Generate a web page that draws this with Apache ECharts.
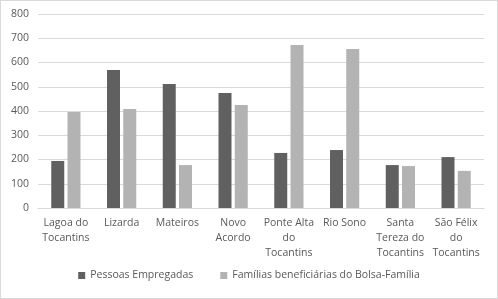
<!DOCTYPE html>
<html>
<head>
<meta charset="utf-8">
<script src="https://cdn.jsdelivr.net/npm/echarts@6/dist/echarts.min.js"></script>
<style>
html,body{margin:0;padding:0;background:#fff;}
#chart{width:498px;height:299px;box-sizing:border-box;border:1px solid #d9d9d9;}
</style>
</head>
<body>
<div id="chart"></div>
<script>
//categorias e valores
var municipios = ['Lagoa do\nTocantins','Lizarda','Mateiros','Novo\nAcordo','Ponte Alta\ndo\nTocantins','Rio Sono','Santa\nTereza do\nTocantins','São Félix\ndo\nTocantins'];
var empregadas = [194, 569, 511, 474, 227, 239, 177, 210];
var bolsaFamilia = [396, 408, 177, 425, 672, 656, 173, 153];
var yTicks = [0, 100, 200, 300, 400, 500, 600, 700, 800];

var chart = echarts.init(document.getElementById('chart'));
var fonte = 'Open Sans';
chart.setOption({
    animation: false,
    color: ['#606060', '#b3b3b3'],
    grid: {left: 37, right: 13, top: 13, bottom: 90},
    legend: {
        bottom: 12,
        left: 'center',
        itemWidth: 7,
        itemHeight: 7,
        itemGap: 27,
        icon: 'rect',
        textStyle: {color: '#595959', fontFamily: fonte, fontSize: 10.5},
        data: ['Pessoas Empregadas', 'Famílias beneficiárias do Bolsa-Família']
    },
    xAxis: {
        type: 'category',
        data: municipios,
        axisLine: {lineStyle: {color: '#d9d9d9'}},
        axisTick: {show: false},
        axisLabel: {color: '#595959', fontFamily: fonte, fontSize: 10.5, lineHeight: 15, interval: 0, margin: 8}
    },
    yAxis: {
        type: 'value',
        min: yTicks[0],
        max: yTicks[yTicks.length - 1],
        interval: 100,
        axisLine: {show: false},
        axisTick: {show: false},
        splitLine: {lineStyle: {color: '#d9d9d9'}},
        axisLabel: {color: '#595959', fontFamily: fonte, fontSize: 10.5, margin: 9}
    },
    series: [
        {name: 'Pessoas Empregadas', type: 'bar', data: empregadas, barWidth: 13, barGap: '25%'},
        {name: 'Famílias beneficiárias do Bolsa-Família', type: 'bar', data: bolsaFamilia, barWidth: 13}
    ]
});
</script>
</body>
</html>
